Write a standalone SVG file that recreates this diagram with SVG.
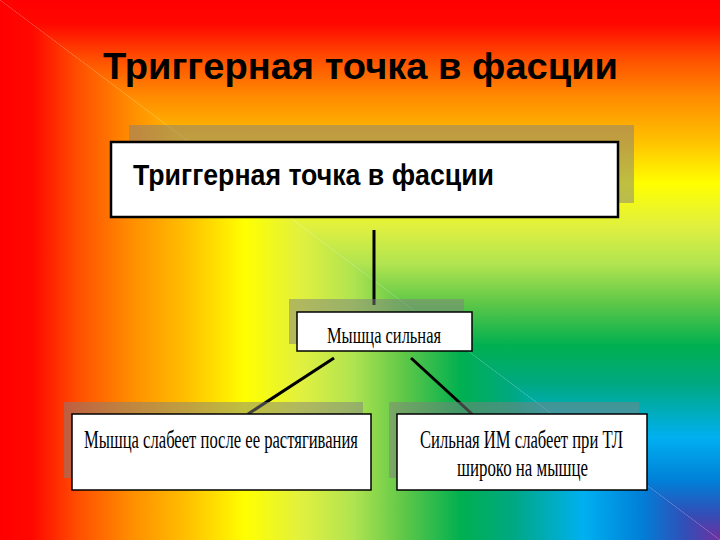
<svg xmlns="http://www.w3.org/2000/svg" width="720" height="540" viewBox="0 0 720 540">
  <defs>
    <linearGradient id="gx" gradientUnits="userSpaceOnUse" x1="0" y1="0" x2="720" y2="0">
      <stop offset="0" stop-color="#ff0000"/>
      <stop offset="0.045" stop-color="#ff0800"/>
      <stop offset="0.11" stop-color="#ff5000"/>
      <stop offset="0.18" stop-color="#ff8c00"/>
      <stop offset="0.26" stop-color="#ffc000"/>
      <stop offset="0.34" stop-color="#ffff00"/>
      <stop offset="0.42" stop-color="#e0f040"/>
      <stop offset="0.49" stop-color="#b0e450"/>
      <stop offset="0.56" stop-color="#60c848"/>
      <stop offset="0.64" stop-color="#00b050"/>
      <stop offset="0.71" stop-color="#00a880"/>
      <stop offset="0.81" stop-color="#00b0f0"/>
      <stop offset="0.89" stop-color="#0080d8"/>
      <stop offset="0.95" stop-color="#3050b8"/>
      <stop offset="1" stop-color="#7030a0"/>
    </linearGradient>
    <linearGradient id="gy" href="#gx" x1="0" y1="0" x2="0" y2="540"/>
  </defs>
  <style>
    .shadow { fill: #808080; fill-opacity: 0.5; }
    .box { fill: #ffffff; stroke: #000000; stroke-width: 1.5; }
    .boxTop { fill: #ffffff; stroke: #000000; stroke-width: 2.5; }
    .serif { font-family: "Liberation Serif", "Times New Roman", serif; fill: #000000; }
    .sans { font-family: "Liberation Sans", Arial, sans-serif; fill: #000000; }
    .conn { stroke: #000000; stroke-width: 3; fill: none; }
  </style>

  <g id="background">
    <polygon points="0,0 0,540 720,540" fill="url(#gx)"/>
    <polygon points="0,0 720,0 720,540" fill="url(#gy)"/>
  </g>

  <g id="title">
    <text class="sans" x="103" y="79" font-size="37" font-weight="bold" textLength="515" lengthAdjust="spacingAndGlyphs">Триггерная точка в фасции</text>
  </g>

  <g id="connectors">
    <line class="conn" x1="374" y1="230" x2="374" y2="305"/>
    <line class="conn" x1="334" y1="358" x2="248" y2="414"/>
    <line class="conn" x1="411" y1="358" x2="472" y2="414"/>
  </g>

  <g id="node-top">
    <rect class="shadow" x="129" y="125" width="505" height="78"/>
    <rect class="boxTop" x="111" y="142" width="507" height="75"/>
    <text class="sans" transform="translate(133 185) scale(1 1.2)" x="0" y="0" font-size="24" font-weight="bold" textLength="361" lengthAdjust="spacingAndGlyphs">Триггерная точка в фасции</text>
  </g>

  <g id="node-middle">
    <rect class="shadow" x="289" y="299" width="175" height="45"/>
    <rect class="box" x="297" y="312" width="175" height="39"/>
    <text class="serif" transform="translate(327 343) scale(1 1.25)" x="0" y="0" font-size="18" textLength="114" lengthAdjust="spacingAndGlyphs">Мышца сильная</text>
  </g>

  <g id="node-left">
    <rect class="shadow" x="64" y="402" width="299" height="76"/>
    <rect class="box" x="72" y="414" width="299" height="76"/>
    <text class="serif" transform="translate(84 448) scale(1 1.25)" x="0" y="0" font-size="20" textLength="274" lengthAdjust="spacingAndGlyphs">Мышца слабеет после ее растягивания</text>
  </g>

  <g id="node-right">
    <rect class="shadow" x="389" y="402" width="250" height="76"/>
    <rect class="box" x="397" y="414" width="250" height="76"/>
    <text class="serif" transform="translate(420 448) scale(1 1.25)" x="0" y="0" font-size="20" textLength="203" lengthAdjust="spacingAndGlyphs">Сильная ИМ слабеет при ТЛ</text>
    <text class="serif" transform="translate(457 476) scale(1 1.25)" x="0" y="0" font-size="20" textLength="131" lengthAdjust="spacingAndGlyphs">широко на мышце</text>
  </g>
</svg>
